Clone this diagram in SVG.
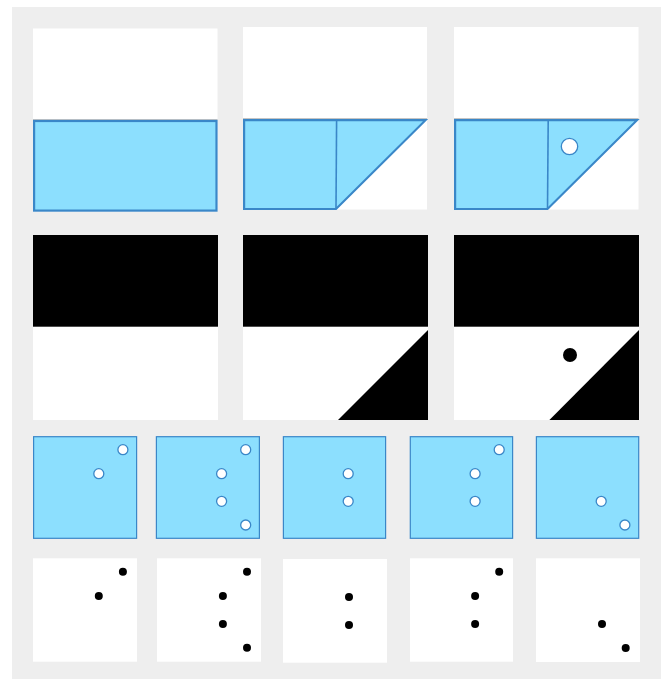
<svg xmlns="http://www.w3.org/2000/svg" width="661" height="679" viewBox="0 0 661 679">
<style>
.bg{fill:#eeeeee}
.wh{fill:#ffffff}
.bk{fill:#000000}
.bl{fill:#8cdffe;stroke:#3a87c8;stroke-width:2.2;stroke-linejoin:miter}
.div{fill:none;stroke:#3a87c8;stroke-width:1.6}
.sq{fill:#8cdffe;stroke:#3a87c8;stroke-width:1.2}
.hole{fill:#ffffff;stroke:#3a87c8;stroke-width:1.3}
.dot{fill:#000000}
.edge{stroke:#c4c4c4;stroke-width:1}
</style>
<rect class="bg" x="12" y="7" width="649" height="672"/>

<g id="top1">
<rect class="wh" x="33" y="28.5" width="184.5" height="183"/>
<line class="edge" x1="33" y1="119.5" x2="217.5" y2="119.5"/>
<rect class="bl" x="34.1" y="121" width="182.4" height="89.6"/>
</g>
<g id="top2">
<rect class="wh" x="243" y="27" width="184" height="182.5"/>
<line class="edge" x1="243" y1="118.5" x2="427" y2="118.5"/>
<path class="bl" d="M244.1,120.2 L425.5,120.2 L336,209 L244.1,209 Z"/>
<path class="div" d="M336.6,120.2 L336,209"/>
</g>
<g id="top3">
<rect class="wh" x="454" y="27" width="184.5" height="182.5"/>
<line class="edge" x1="454" y1="118.5" x2="638.5" y2="118.5"/>
<path class="bl" d="M455.1,120.2 L637,120.2 L547.5,209 L455.1,209 Z"/>
<path class="div" d="M548.2,120.2 L547.5,209"/>
<circle class="hole" cx="569.5" cy="146.5" r="8.2"/>
</g>

<g id="mid1">
<rect class="wh" x="33" y="235" width="185" height="185"/>
<rect class="bk" x="33" y="235" width="185" height="91.7"/>
</g>
<g id="mid2">
<rect class="wh" x="243" y="235" width="185" height="185"/>
<rect class="bk" x="243" y="235" width="185" height="91.7"/>
<path class="bk" d="M338,420 L428,330 L428,420 Z"/>
</g>
<g id="mid3">
<rect class="wh" x="454" y="235" width="185" height="185"/>
<rect class="bk" x="454" y="235" width="185" height="91.7"/>
<path class="bk" d="M549.4,420 L639,330 L639,420 Z"/>
<circle class="dot" cx="570" cy="355" r="7"/>
</g>

<g id="blueA">
<rect class="sq" x="33.6" y="436.7" width="103" height="101.6"/>
<circle class="hole" cx="122.9" cy="449.7" r="5"/>
<circle class="hole" cx="98.8" cy="473.7" r="5"/>
</g>
<g id="blueB">
<rect class="sq" x="156.4" y="436.7" width="103" height="101.6"/>
<circle class="hole" cx="245.7" cy="449.7" r="5"/>
<circle class="hole" cx="221.6" cy="473.7" r="5"/>
<circle class="hole" cx="221.6" cy="501.3" r="5"/>
<circle class="hole" cx="245.7" cy="525" r="5"/>
</g>
<g id="blueC">
<rect class="sq" x="283.4" y="436.7" width="102.2" height="101.6"/>
<circle class="hole" cx="348.2" cy="473.7" r="5"/>
<circle class="hole" cx="348.2" cy="501.3" r="5"/>
</g>
<g id="blueD">
<rect class="sq" x="410.3" y="436.7" width="102.3" height="101.6"/>
<circle class="hole" cx="499.2" cy="449.7" r="5"/>
<circle class="hole" cx="475.1" cy="473.7" r="5"/>
<circle class="hole" cx="475.1" cy="501.3" r="5"/>
</g>
<g id="blueE">
<rect class="sq" x="536.4" y="436.7" width="102.3" height="101.6"/>
<circle class="hole" cx="601.2" cy="501.3" r="5"/>
<circle class="hole" cx="624.9" cy="525" r="5"/>
</g>

<g id="dotA">
<rect class="wh" x="33" y="558.3" width="104" height="103.4"/>
<circle class="dot" cx="122.9" cy="571.7" r="4"/>
<circle class="dot" cx="98.8" cy="596" r="4"/>
</g>
<g id="dotB">
<rect class="wh" x="157" y="558.3" width="104" height="103.4"/>
<circle class="dot" cx="247" cy="571.7" r="4"/>
<circle class="dot" cx="222.9" cy="596" r="4"/>
<circle class="dot" cx="222.9" cy="624" r="4"/>
<circle class="dot" cx="247" cy="647.7" r="4"/>
</g>
<g id="dotC">
<rect class="wh" x="283" y="559" width="104" height="103.7"/>
<circle class="dot" cx="349" cy="597" r="4"/>
<circle class="dot" cx="349" cy="625" r="4"/>
</g>
<g id="dotD">
<rect class="wh" x="410" y="558.3" width="103" height="103.4"/>
<circle class="dot" cx="499.2" cy="571.7" r="4"/>
<circle class="dot" cx="475.1" cy="596" r="4"/>
<circle class="dot" cx="475.1" cy="624" r="4"/>
</g>
<g id="dotE">
<rect class="wh" x="536" y="558.3" width="104" height="103.7"/>
<circle class="dot" cx="602" cy="624" r="4"/>
<circle class="dot" cx="625.7" cy="648" r="4"/>
</g>
</svg>
